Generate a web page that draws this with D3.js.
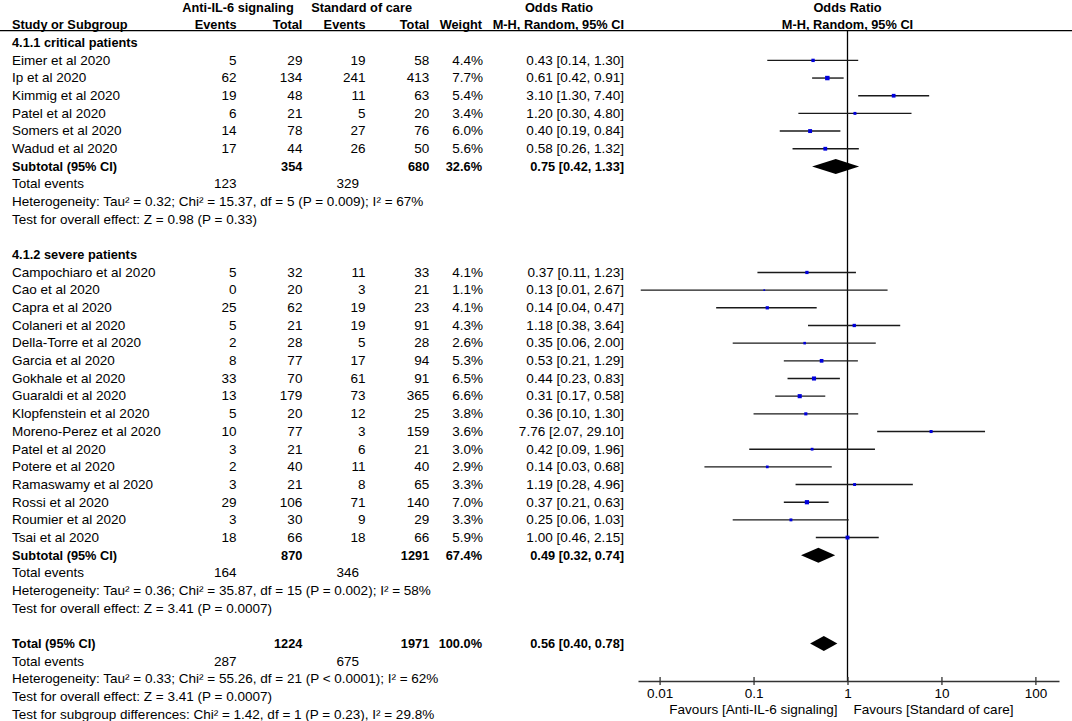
<!DOCTYPE html>
<html><head><meta charset="utf-8">
<script src="https://cdn.jsdelivr.net/npm/d3@7"></script>
<style>
body{margin:0;background:#fff}
svg{display:block;background:#fff}
text{font-family:"Liberation Sans",Arial,Helvetica,sans-serif;fill:#000}
</style>
</head><body>
<svg id="chart" width="1072" height="721"></svg>
<script>
// ---------------- DATA ----------------
const groupTitles = ["4.1.1 critical patients", "4.1.2 severe patients"];
const studies = ["Eimer et al 2020","Ip et al 2020","Kimmig et al 2020","Patel et al 2020","Somers et al 2020","Wadud et al 2020",
  "Campochiaro et al 2020","Cao et al 2020","Capra et al 2020","Colaneri et al 2020","Della-Torre et al 2020","Garcia et al 2020",
  "Gokhale et al 2020","Guaraldi et al 2020","Klopfenstein et al 2020","Moreno-Perez et al 2020","Patel et al 2020","Potere et al 2020",
  "Ramaswamy et al 2020","Rossi et al 2020","Roumier et al 2020","Tsai et al 2020"];
const studyGroup = [0,0,0,0,0,0, 1,1,1,1,1,1,1,1,1,1,1,1,1,1,1,1];
const expEvents = [5,62,19,6,14,17, 5,0,25,5,2,8,33,13,5,10,3,2,3,29,3,18];
const expTotal  = [29,134,48,21,78,44, 32,20,62,21,28,77,70,179,20,77,21,40,21,106,30,66];
const ctlEvents = [19,241,11,5,27,26, 11,3,19,19,5,17,61,73,12,3,6,11,8,71,9,18];
const ctlTotal  = [58,413,63,20,76,50, 33,21,23,91,28,94,91,365,25,159,21,40,65,140,29,66];
const weights   = [4.4,7.7,5.4,3.4,6.0,5.6, 4.1,1.1,4.1,4.3,2.6,5.3,6.5,6.6,3.8,3.6,3.0,2.9,3.3,7.0,3.3,5.9];
const orEst     = [0.43,0.61,3.10,1.20,0.40,0.58, 0.37,0.13,0.14,1.18,0.35,0.53,0.44,0.31,0.36,7.76,0.42,0.14,1.19,0.37,0.25,1.00];
const orLow     = [0.14,0.42,1.30,0.30,0.19,0.26, 0.11,0.0063,0.04,0.38,0.06,0.21,0.23,0.17,0.10,2.07,0.09,0.03,0.28,0.21,0.06,0.46];
const orHigh    = [1.30,0.91,7.40,4.80,0.84,1.32, 1.23,2.67,0.47,3.64,2.00,1.29,0.83,0.58,1.30,29.10,1.96,0.68,4.96,0.63,1.03,2.15];

const subExpTotal = [354, 870];
const subCtlTotal = [680, 1291];
const subWeight   = [32.6, 67.4];
const subOR       = [0.75, 0.49];
const subLow      = [0.42, 0.32];
const subHigh     = [1.33, 0.74];
const subExpEvents = [123, 164];
const subCtlEvents = [329, 346];
const subHeterogeneity = ["Heterogeneity: Tau² = 0.32; Chi² = 15.37, df = 5 (P = 0.009); I² = 67%",
                          "Heterogeneity: Tau² = 0.36; Chi² = 35.87, df = 15 (P = 0.002); I² = 58%"];
const subEffect = ["Test for overall effect: Z = 0.98 (P = 0.33)", "Test for overall effect: Z = 3.41 (P = 0.0007)"];

const totalExpTotal = 1224, totalCtlTotal = 1971, totalWeight = 100.0;
const totalOR = 0.56, totalLow = 0.40, totalHigh = 0.78;
const totalExpEvents = 287, totalCtlEvents = 675;
const totalHeterogeneity = "Heterogeneity: Tau² = 0.33; Chi² = 55.26, df = 21 (P < 0.0001); I² = 62%";
const totalEffect = "Test for overall effect: Z = 3.41 (P = 0.0007)";
const subgroupDiff = "Test for subgroup differences: Chi² = 1.42, df = 1 (P = 0.23), I² = 29.8%";

const tickValues = [0.01, 0.1, 1, 10, 100];
const tickLabels = ["0.01", "0.1", "1", "10", "100"];
const favourLabels = ["Favours [Anti-IL-6 signaling]", "Favours [Standard of care]"];

// ---------------- LAYOUT ----------------
const W = 1072, H = 721;
const FS = 12.3, SX = 1.1, SXB = 1.04;
const col = {name: 12, expEv: 236.6, expTot: 302.4, ctlEv: 365.5, ctlTot: 429.3, wt: 483, orTxt: 624, totEvCtl: 359};
const svg = d3.select("#chart");

// row index -> y
const yRow = d3.scaleLinear().domain([0, 38]).range([42.7, 714.3]);
// log odds-ratio scale
const x = d3.scaleLog().domain([0.01, 100]).range([659.6, 1035.4]);
const axisScale = x.copy();
axisScale.domain([x.invert(638), x.invert(1059)]).range([638, 1059]);
const axisY = 681;
const headerLineY = 30.7;

const f2 = d3.format(".2f"), f1 = d3.format(".1f");
const orText = (e, l, h) => `${f2(e)} [${f2(l)}, ${f2(h)}]`;

function T(sel, xx, yy, s, opt = {}) {
  return sel.append("text")
    .attr("transform", `translate(${xx},${yy}) scale(${opt.bold ? SXB : SX},1)`)
    .attr("text-anchor", opt.anchor || "start")
    .attr("dy", "0.35em")
    .attr("font-size", opt.size || FS)
    .style("font-weight", opt.bold ? "bold" : "normal")
    .text(s);
}

// build rows
const rows = [];
let k = 0;
groupTitles.forEach((g, gi) => {
  rows.push({type: "group", k: k++, label: g});
  studies.forEach((s, i) => {
    if (studyGroup[i] === gi) rows.push({type: "study", k: k++, i});
  });
  rows.push({type: "subtotal", k: k++, gi});
  rows.push({type: "events", k: k++, a: subExpEvents[gi], b: subCtlEvents[gi]});
  rows.push({type: "note", k: k++, label: subHeterogeneity[gi]});
  rows.push({type: "note", k: k++, label: subEffect[gi]});
  k++; // blank
});
rows.push({type: "total", k: k++});
rows.push({type: "events", k: k++, a: totalExpEvents, b: totalCtlEvents});
rows.push({type: "note", k: k++, label: totalHeterogeneity});
rows.push({type: "note", k: k++, label: totalEffect});
rows.push({type: "note", k: k++, label: subgroupDiff});

// ---------------- HEADER ----------------
const hdr = svg.append("g");
const h1 = yRow(-2), h2 = yRow(-1);
T(hdr, 238, h1, "Anti-IL-6 signaling", {bold: true, anchor: "middle"});
T(hdr, 361.6, h1, "Standard of care", {bold: true, anchor: "middle"});
T(hdr, 559, h1, "Odds Ratio", {bold: true, anchor: "middle"});
T(hdr, x(1), h1, "Odds Ratio", {bold: true, anchor: "middle"});
T(hdr, col.name, h2, "Study or Subgroup", {bold: true});
T(hdr, col.expEv, h2, "Events", {bold: true, anchor: "end"});
T(hdr, col.expTot, h2, "Total", {bold: true, anchor: "end"});
T(hdr, col.ctlEv, h2, "Events", {bold: true, anchor: "end"});
T(hdr, col.ctlTot, h2, "Total", {bold: true, anchor: "end"});
T(hdr, col.wt - 1, h2, "Weight", {bold: true, anchor: "end"});
T(hdr, col.orTxt, h2, "M-H, Random, 95% CI", {bold: true, anchor: "end"});
T(hdr, x(1), h2, "M-H, Random, 95% CI", {bold: true, anchor: "middle"});
hdr.append("line").attr("x1", 0).attr("x2", W).attr("y1", headerLineY).attr("y2", headerLineY)
  .attr("stroke", "#000").attr("stroke-width", 1.3);

// reference line at OR = 1
svg.append("line").attr("x1", x(1)).attr("x2", x(1)).attr("y1", headerLineY).attr("y2", axisY)
  .attr("stroke", "#000").attr("stroke-width", 1.3);

// ---------------- ROWS ----------------
const body = svg.append("g");
const marks = svg.append("g");
const diamond = (e, l, h, yy, hh) => `M${x(l)},${yy} L${x(e)},${yy - hh} L${x(h)},${yy} L${x(e)},${yy + hh} Z`;

rows.forEach(r => {
  const yy = yRow(r.k);
  if (r.type === "group") {
    T(body, col.name, yy, r.label, {bold: true});
  } else if (r.type === "study") {
    const i = r.i;
    T(body, col.name, yy, studies[i]);
    T(body, col.expEv, yy, expEvents[i], {anchor: "end"});
    T(body, col.expTot, yy, expTotal[i], {anchor: "end"});
    T(body, col.ctlEv, yy, ctlEvents[i], {anchor: "end"});
    T(body, col.ctlTot, yy, ctlTotal[i], {anchor: "end"});
    T(body, col.wt, yy, f1(weights[i]) + "%", {anchor: "end"});
    T(body, col.orTxt, yy, orText(orEst[i], orLow[i], orHigh[i]), {anchor: "end"});
    marks.append("line").attr("x1", x(orLow[i])).attr("x2", x(orHigh[i]))
      .attr("y1", yy).attr("y2", yy).attr("stroke", "#1a1a1a").attr("stroke-width", 1.4);
    const s = 1.6 * Math.sqrt(weights[i]);
    marks.append("rect").attr("x", x(orEst[i]) - s / 2).attr("y", yy - s / 2)
      .attr("width", s).attr("height", s).attr("fill", "#0000dd");
  } else if (r.type === "subtotal") {
    const gi = r.gi;
    T(body, col.name, yy, "Subtotal (95% CI)", {bold: true});
    T(body, col.expTot, yy, subExpTotal[gi], {bold: true, anchor: "end"});
    T(body, col.ctlTot, yy, subCtlTotal[gi], {bold: true, anchor: "end"});
    T(body, col.wt - 1, yy, f1(subWeight[gi]) + "%", {bold: true, anchor: "end"});
    T(body, col.orTxt, yy, orText(subOR[gi], subLow[gi], subHigh[gi]), {bold: true, anchor: "end"});
    marks.append("path").attr("d", diamond(subOR[gi], subLow[gi], subHigh[gi], yy, 7.5)).attr("fill", "#000");
  } else if (r.type === "total") {
    T(body, col.name, yy, "Total (95% CI)", {bold: true});
    T(body, col.expTot, yy, totalExpTotal, {bold: true, anchor: "end"});
    T(body, col.ctlTot, yy, totalCtlTotal, {bold: true, anchor: "end"});
    T(body, col.wt - 1, yy, f1(totalWeight) + "%", {bold: true, anchor: "end"});
    T(body, col.orTxt, yy, orText(totalOR, totalLow, totalHigh), {bold: true, anchor: "end"});
    marks.append("path").attr("d", diamond(totalOR, totalLow, totalHigh, yy, 7.5)).attr("fill", "#000");
  } else if (r.type === "events") {
    T(body, col.name, yy, "Total events");
    T(body, col.expEv, yy, r.a, {anchor: "end"});
    T(body, col.totEvCtl, yy, r.b, {anchor: "end"});
  } else if (r.type === "note") {
    T(body, col.name, yy, r.label);
  }
});

// ---------------- AXIS ----------------
const axisG = svg.append("g").attr("transform", `translate(0,${axisY})`)
  .call(d3.axisBottom(axisScale).tickValues(tickValues).tickFormat((d, i) => tickLabels[i]).tickSize(4).tickSizeOuter(0));
axisG.select(".domain").attr("stroke", "#333").attr("stroke-width", 1.4);
axisG.selectAll(".tick line").attr("y1", -4).attr("y2", 4).attr("stroke", "#333").attr("stroke-width", 1.3);
axisG.selectAll(".tick text").attr("y", 8).attr("dy", "0.71em")
  .attr("font-size", FS).attr("font-family", '"Liberation Sans",Arial,sans-serif')
  .attr("transform", `scale(${SX},1)`).attr("fill", "#000");

const favY = 710;
T(svg, x(1) - 10, favY, favourLabels[0], {anchor: "end"});
T(svg, x(1) + 6, favY, favourLabels[1]);
</script>
</body></html>
